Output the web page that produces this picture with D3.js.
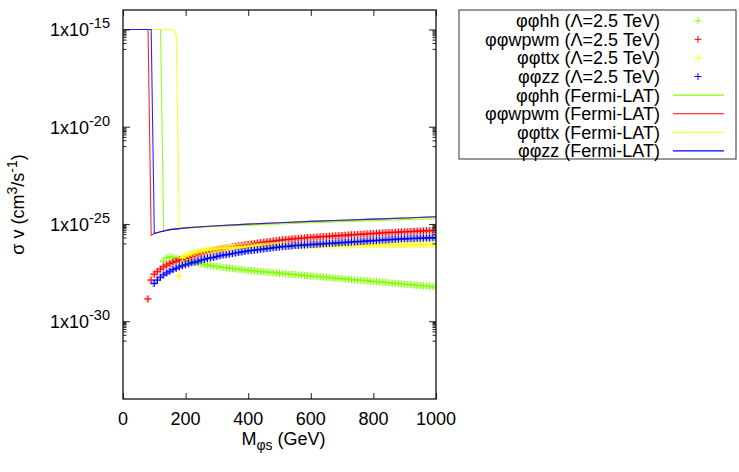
<!DOCTYPE html>
<html>
<head>
<meta charset="utf-8">
<script src="https://cdn.jsdelivr.net/npm/d3@7"></script>
<style>
  body { margin: 0; background: #fff; }
  svg text { font-family: "Liberation Sans", Arial, Helvetica, sans-serif; fill: #000; }
</style>
</head>
<body>
<svg id="chart" width="739" height="472"></svg>
<script>
// mass grid of the Lambda = 2.5 TeV points (GeV)
var massGrid = [
  80, 90, 100, 110, 120, 130, 140, 150, 160, 170,
  180, 190, 200, 210, 220, 230, 240, 250, 260, 270,
  280, 290, 300, 310, 320, 330, 340, 350, 360, 370,
  380, 390, 400, 410, 420, 430, 440, 450, 460, 470,
  480, 490, 500, 510, 520, 530, 540, 550, 560, 570,
  580, 590, 600, 610, 620, 630, 640, 650, 660, 670,
  680, 690, 700, 710, 720, 730, 740, 750, 760, 770,
  780, 790, 800, 810, 820, 830, 840, 850, 860, 870,
  880, 890, 900, 910, 920, 930, 940, 950, 960, 970,
  980, 990, 1000
]

// sigma v (cm^3/s), null below threshold
var hhVal = [
  null, null, null, null, null, 1.2e-27, 1.8e-27, 2.0e-27, 1.9e-27, 1.7e-27,
  1.6e-27, 1.4e-27, 1.3e-27, 1.2e-27, 1.1e-27, 1.05e-27, 9.5e-28, 8.9e-28, 8.3e-28, 7.8e-28,
  7.2e-28, 6.9e-28, 6.5e-28, 6.2e-28, 5.9e-28, 5.6e-28, 5.4e-28, 5.1e-28, 4.9e-28, 4.7e-28,
  4.5e-28, 4.3e-28, 4.1e-28, 4.0e-28, 3.8e-28, 3.7e-28, 3.55e-28, 3.47e-28, 3.39e-28, 3.24e-28,
  3.16e-28, 3.02e-28, 2.95e-28, 2.82e-28, 2.75e-28, 2.63e-28, 2.57e-28, 2.51e-28, 2.4e-28, 2.34e-28,
  2.24e-28, 2.19e-28, 2.09e-28, 2.04e-28, 2.0e-28, 1.91e-28, 1.86e-28, 1.78e-28, 1.74e-28, 1.7e-28,
  1.62e-28, 1.58e-28, 1.51e-28, 1.48e-28, 1.45e-28, 1.38e-28, 1.35e-28, 1.29e-28, 1.26e-28, 1.23e-28,
  1.17e-28, 1.15e-28, 1.1e-28, 1.07e-28, 1.05e-28, 1.0e-28, 9.8e-29, 9.3e-29, 9.1e-29, 8.9e-29,
  8.5e-29, 8.3e-29, 7.9e-29, 7.8e-29, 7.6e-29, 7.2e-29, 7.1e-29, 6.8e-29, 6.6e-29, 6.5e-29,
  6.2e-29, 6.0e-29, 5.9e-29
]

var wpwmVal = [
  1.4e-29, 1.3e-28, 2.6e-28, 3.5e-28, 4.8e-28, 6.2e-28, 7.6e-28, 9.1e-28, 1.07e-27, 1.2e-27,
  1.4e-27, 1.5e-27, 1.7e-27, 1.9e-27, 2.2e-27, 2.5e-27, 2.7e-27, 3.0e-27, 3.3e-27, 3.6e-27,
  4.0e-27, 4.3e-27, 4.7e-27, 5.0e-27, 5.4e-27, 5.8e-27, 6.2e-27, 6.6e-27, 7.1e-27, 7.6e-27,
  7.9e-27, 8.5e-27, 8.9e-27, 9.3e-27, 1.0e-26, 1.05e-26, 1.1e-26, 1.15e-26, 1.2e-26, 1.26e-26,
  1.32e-26, 1.38e-26, 1.45e-26, 1.51e-26, 1.58e-26, 1.62e-26, 1.7e-26, 1.74e-26, 1.82e-26, 1.86e-26,
  1.9e-26, 2.0e-26, 2.04e-26, 2.09e-26, 2.14e-26, 2.19e-26, 2.24e-26, 2.29e-26, 2.34e-26, 2.4e-26,
  2.45e-26, 2.5e-26, 2.57e-26, 2.63e-26, 2.69e-26, 2.75e-26, 2.82e-26, 2.88e-26, 2.95e-26, 3.02e-26,
  3.09e-26, 3.16e-26, 3.24e-26, 3.31e-26, 3.39e-26, 3.47e-26, 3.55e-26, 3.63e-26, 3.68e-26, 3.72e-26,
  3.8e-26, 3.89e-26, 3.98e-26, 4.02e-26, 4.07e-26, 4.17e-26, 4.27e-26, 4.3e-26, 4.37e-26, 4.47e-26,
  4.5e-26, 4.57e-26, 4.68e-26
]

var ttxVal = [
  null, null, null, null, null, null, null, null, null, null,
  2.1e-28, 1.8e-27, 2.3e-27, 2.7e-27, 3.1e-27, 3.4e-27, 3.7e-27, 4.0e-27, 4.3e-27, 4.5e-27,
  4.7e-27, 4.9e-27, 5.1e-27, 5.4e-27, 5.6e-27, 5.8e-27, 6.0e-27, 6.2e-27, 6.3e-27, 6.5e-27,
  6.6e-27, 6.8e-27, 6.9e-27, 6.9e-27, 7.1e-27, 7.1e-27, 7.2e-27, 7.2e-27, 7.4e-27, 7.4e-27,
  7.6e-27, 7.6e-27, 7.6e-27, 7.7e-27, 7.7e-27, 7.7e-27, 7.8e-27, 7.8e-27, 7.8e-27, 7.9e-27,
  7.9e-27, 7.9e-27, 7.9e-27, 8.0e-27, 8.0e-27, 8.0e-27, 8.1e-27, 8.1e-27, 8.1e-27, 8.1e-27,
  8.1e-27, 8.2e-27, 8.2e-27, 8.2e-27, 8.2e-27, 8.3e-27, 8.3e-27, 8.3e-27, 8.4e-27, 8.4e-27,
  8.4e-27, 8.5e-27, 8.5e-27, 8.5e-27, 8.5e-27, 8.6e-27, 8.6e-27, 8.6e-27, 8.6e-27, 8.7e-27,
  8.7e-27, 8.7e-27, 8.7e-27, 8.7e-27, 8.8e-27, 8.8e-27, 8.8e-27, 8.8e-27, 8.8e-27, 8.9e-27,
  8.9e-27, 8.9e-27, 8.9e-27
]

var zzVal = [
  null, null, 8.7e-29, 1.3e-28, 1.8e-28, 2.4e-28, 3.0e-28, 3.7e-28, 4.5e-28, 5.2e-28,
  6.2e-28, 7.1e-28, 7.9e-28, 8.9e-28, 1.0e-27, 1.1e-27, 1.2e-27, 1.4e-27, 1.5e-27, 1.7e-27,
  1.8e-27, 1.9e-27, 2.1e-27, 2.3e-27, 2.5e-27, 2.6e-27, 2.8e-27, 3.0e-27, 3.2e-27, 3.4e-27,
  3.6e-27, 3.8e-27, 4.1e-27, 4.3e-27, 4.5e-27, 4.7e-27, 4.9e-27, 5.1e-27, 5.4e-27, 5.6e-27,
  5.9e-27, 6.2e-27, 6.5e-27, 6.8e-27, 6.9e-27, 7.2e-27, 7.4e-27, 7.8e-27, 7.9e-27, 8.1e-27,
  8.3e-27, 8.5e-27, 8.7e-27, 8.9e-27, 9.1e-27, 9.3e-27, 9.5e-27, 9.8e-27, 1.0e-26, 1.02e-26,
  1.05e-26, 1.07e-26, 1.1e-26, 1.12e-26, 1.15e-26, 1.17e-26, 1.2e-26, 1.23e-26, 1.26e-26, 1.29e-26,
  1.32e-26, 1.35e-26, 1.38e-26, 1.41e-26, 1.45e-26, 1.48e-26, 1.51e-26, 1.55e-26, 1.58e-26, 1.62e-26,
  1.66e-26, 1.7e-26, 1.72e-26, 1.74e-26, 1.78e-26, 1.8e-26, 1.82e-26, 1.86e-26, 1.88e-26, 1.9e-26,
  1.92e-26, 1.95e-26, 1.97e-26
]

// Fermi-LAT limits (capped at 1e-15 below threshold)
var hhLatMass = [0, 120, 130, 150, 200, 250, 300, 400, 500, 600, 700, 800, 900, 1000]
var hhLat = [1e-15, 1e-15, 4.5e-26, 5.0e-26, 6.0e-26, 6.8e-26, 7.4e-26, 8.7e-26, 1.0e-25, 1.15e-25, 1.32e-25, 1.48e-25, 1.66e-25, 1.86e-25]

var wpwmLatMass = [0, 80, 90, 100, 120, 150, 200, 250, 300, 400, 500, 600, 700, 800, 900, 1000]
var wpwmLat = [1e-15, 1e-15, 2.6e-26, 3.2e-26, 4.0e-26, 5.1e-26, 6.3e-26, 7.2e-26, 8.1e-26, 9.8e-26, 1.15e-25, 1.35e-25, 1.55e-25, 1.78e-25, 2.04e-25, 2.34e-25]

var ttxLatMass = [0, 160, 170, 180, 200, 250, 300, 400, 500, 600, 700, 800, 900, 1000]
var ttxLat = [1e-15, 1e-15, 5.5e-16, 5.9e-26, 6.3e-26, 7.2e-26, 8.1e-26, 9.8e-26, 1.15e-25, 1.35e-25, 1.55e-25, 1.78e-25, 2.04e-25, 2.34e-25]

var zzLatMass = [0, 90, 100, 120, 150, 200, 250, 300, 400, 500, 600, 700, 800, 900, 1000]
var zzLat = [1e-15, 1e-15, 3.2e-26, 4.0e-26, 5.1e-26, 6.3e-26, 7.2e-26, 8.1e-26, 9.8e-26, 1.15e-25, 1.35e-25, 1.55e-25, 1.78e-25, 2.04e-25, 2.34e-25]

var xTicks = [0, 200, 400, 600, 800, 1000]
var yTicks = [1e-15, 1e-20, 1e-25, 1e-30]
var yTickExp = ["-15", "-20", "-25", "-30"]
var yMinor = [1e-16, 2e-16, 3e-16, 4e-16, 5e-16, 6e-16, 7e-16, 8e-16, 9e-16,
              1e-21, 2e-21, 3e-21, 4e-21, 5e-21, 6e-21, 7e-21, 8e-21, 9e-21,
              1e-26, 2e-26, 3e-26, 4e-26, 5e-26, 6e-26, 7e-26, 8e-26, 9e-26,
              1e-31, 2e-31, 3e-31, 4e-31, 5e-31, 6e-31, 7e-31, 8e-31, 9e-31]

var pointLabels = ["\u03c6\u03c6hh (\u039b=2.5 TeV)", "\u03c6\u03c6wpwm (\u039b=2.5 TeV)",
                   "\u03c6\u03c6ttx (\u039b=2.5 TeV)", "\u03c6\u03c6zz (\u039b=2.5 TeV)"]
var lineLabels = ["\u03c6\u03c6hh (Fermi-LAT)", "\u03c6\u03c6wpwm (Fermi-LAT)",
                  "\u03c6\u03c6ttx (Fermi-LAT)", "\u03c6\u03c6zz (Fermi-LAT)"]
var colors = ["#80ff00", "#ff0000", "#ffff00", "#0000ff"]

var pLeft = 123, pRight = 436, pTop = 10, pBottom = 399

var svg = d3.select("#chart")

var x = d3.scaleLinear().domain([0, 1000]).range([pLeft, pRight])
var y = d3.scaleLog().domain([1e-34, 1e-14]).range([pBottom, pTop])

svg.append("defs").append("clipPath").attr("id", "plotclip")
  .append("rect")
    .attr("x", pLeft).attr("y", pTop)
    .attr("width", pRight - pLeft).attr("height", pBottom - pTop)

var plot = svg.append("g").attr("clip-path", "url(#plotclip)")

// points
var pointSets = [hhVal, wpwmVal, ttxVal, zzVal]
var cross = "M-3.5,0H3.5M0,-3.5V3.5"

pointSets.forEach(function(vals, k) {
    var pts = massGrid.map(function(m, i) { return {m: m, v: vals[i]} })
                      .filter(function(d) { return d.v != null })

    var g = plot.append("g")
    g.selectAll("path.halo")
        .data(pts)
      .enter().append("path")
        .attr("class", "halo")
        .attr("d", cross)
        .attr("transform", function(d) { return "translate(" + (x(d.m) - 0.8) + "," + y(d.v) + ")" })
        .attr("stroke", colors[k])
        .attr("stroke-width", 2.4)
        .attr("stroke-opacity", 0.3)
        .attr("fill", "none")

    g.selectAll("path.mark")
        .data(pts)
      .enter().append("path")
        .attr("class", "mark")
        .attr("d", cross)
        .attr("transform", function(d) { return "translate(" + x(d.m) + "," + y(d.v) + ")" })
        .attr("stroke", colors[k])
        .attr("stroke-width", 1)
        .attr("fill", "none")
})

// Fermi-LAT lines
var lineSets = [[hhLatMass, hhLat], [wpwmLatMass, wpwmLat], [ttxLatMass, ttxLat], [zzLatMass, zzLat]]
var line = d3.line()
    .x(function(d) { return x(d.m) })
    .y(function(d) { return y(d.v) })

lineSets.forEach(function(s, k) {
    var pts = s[0].map(function(m, i) { return {m: m, v: s[1][i]} })
    plot.append("path")
        .datum(pts)
        .attr("d", line)
        .attr("fill", "none")
        .attr("stroke", colors[k])
        .attr("stroke-width", 1.1)
        .attr("stroke-opacity", 0.85)
})

// axes: inward ticks, mirrored
function ticksOnly(axis) {
    return function(g) {
        g.call(axis)
        g.select(".domain").remove()
        g.selectAll("text").remove()
        g.selectAll("line").attr("stroke", "#222")
    }
}

svg.append("g").attr("transform", "translate(0," + pBottom + ")")
    .call(ticksOnly(d3.axisBottom(x).tickValues(xTicks).tickSize(-6)))
svg.append("g").attr("transform", "translate(0," + pTop + ")")
    .call(ticksOnly(d3.axisTop(x).tickValues(xTicks).tickSize(-6)))
svg.append("g").attr("transform", "translate(" + pLeft + ",0)")
    .call(ticksOnly(d3.axisLeft(y).tickValues(yTicks).tickSize(-7)))
svg.append("g").attr("transform", "translate(" + pRight + ",0)")
    .call(ticksOnly(d3.axisRight(y).tickValues(yTicks).tickSize(-7)))
svg.append("g").attr("transform", "translate(" + pLeft + ",0)")
    .call(ticksOnly(d3.axisLeft(y).tickValues(yMinor).tickSize(-3.5)))
svg.append("g").attr("transform", "translate(" + pRight + ",0)")
    .call(ticksOnly(d3.axisRight(y).tickValues(yMinor).tickSize(-3.5)))

svg.append("rect")
    .attr("x", pLeft).attr("y", pTop)
    .attr("width", pRight - pLeft).attr("height", pBottom - pTop)
    .attr("fill", "none")
    .attr("stroke", "#111")
    .attr("stroke-width", 1.3)

// tick labels
svg.selectAll("text.xlab")
    .data(xTicks)
  .enter().append("text")
    .attr("class", "xlab")
    .attr("x", function(d) { return x(d) })
    .attr("y", 425)
    .attr("text-anchor", "middle")
    .style("font-size", "18px")
    .text(function(d) { return d })

var ylab = svg.selectAll("text.ylab")
    .data(yTicks)
  .enter().append("text")
    .attr("class", "ylab")
    .attr("x", 110)
    .attr("y", function(d) { return y(d) + 7 })
    .attr("text-anchor", "end")
    .style("font-size", "18px")
ylab.append("tspan").text("1x10")
ylab.append("tspan")
    .attr("dy", -8)
    .style("font-size", "14.5px")
    .text(function(d, i) { return yTickExp[i] })

// axis titles
var yt = svg.append("text")
    .attr("transform", "translate(24," + ((pTop + pBottom) / 2) + ") rotate(-90)")
    .attr("text-anchor", "middle")
    .style("font-size", "18px")
yt.append("tspan").text("\u03c3 v (cm")
yt.append("tspan").attr("dy", -7).style("font-size", "14px").text("3")
yt.append("tspan").attr("dy", 7).text("/s")
yt.append("tspan").attr("dy", -7).style("font-size", "14px").text("-1")
yt.append("tspan").attr("dy", 7).text(")")

var xt = svg.append("text")
    .attr("x", (pLeft + pRight) / 2 + 4)
    .attr("y", 445)
    .attr("text-anchor", "middle")
    .style("font-size", "18px")
xt.append("tspan").text("M")
xt.append("tspan").attr("dy", 5).style("font-size", "14px").text("\u03c6s")
xt.append("tspan").attr("dy", -5).text(" (GeV)")

// legend
var legend = svg.append("g")
legend.append("rect")
    .attr("x", 459).attr("y", 10)
    .attr("width", 277).attr("height", 149)
    .attr("fill", "#fff")
    .attr("stroke", "#333")
    .attr("stroke-width", 1)

var rowY = function(i) { return 20.7 + i * 18.6 }

legend.selectAll("text.lp")
    .data(pointLabels.concat(lineLabels))
  .enter().append("text")
    .attr("x", 660)
    .attr("y", function(d, i) { return rowY(i) + 6.5 })
    .attr("text-anchor", "end")
    .style("font-size", "18px")
    .text(function(d) { return d })

legend.selectAll("path.lm")
    .data(colors)
  .enter().append("path")
    .attr("d", cross)
    .attr("transform", function(d, i) { return "translate(698," + rowY(i) + ")" })
    .attr("stroke", function(d) { return d })
    .attr("fill", "none")

legend.selectAll("line.ll")
    .data(colors)
  .enter().append("line")
    .attr("x1", 673).attr("x2", 724)
    .attr("y1", function(d, i) { return rowY(i + 4) })
    .attr("y2", function(d, i) { return rowY(i + 4) })
    .attr("stroke", function(d) { return d })
    .attr("stroke-width", 1.1)
</script>
</body>
</html>
